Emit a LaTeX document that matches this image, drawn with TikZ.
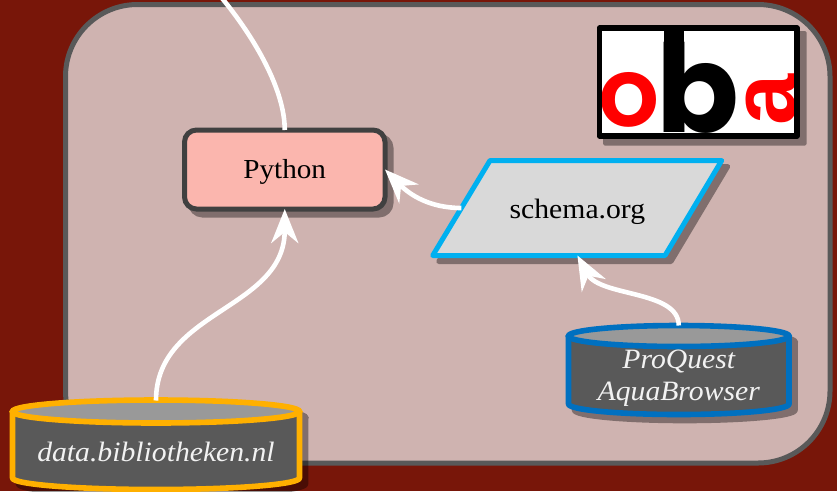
\documentclass[tikz,border=0pt]{standalone}
\usepackage{fontspec}
\setmainfont{Liberation Serif}[FakeStretch=1.06]
\newfontfamily\logofont{Poppins SemiBold}
\newfontfamily\logoheavy{Poppins Bold}
\newfontfamily\logoa{Liberation Sans Bold}
\usetikzlibrary{arrows.meta}
\definecolor{bgred}{HTML}{781609}
\definecolor{panelfill}{HTML}{CFB3B0}
\definecolor{panelline}{HTML}{595959}
\definecolor{pyfill}{HTML}{FBB6AE}
\definecolor{pyline}{HTML}{404040}
\definecolor{schemaline}{HTML}{00B0F0}
\definecolor{schemafill}{HTML}{D9D9D9}
\definecolor{drumbody}{HTML}{595959}
\definecolor{drumtop}{HTML}{999999}
\definecolor{dataline}{HTML}{FFB000}
\definecolor{pqline}{HTML}{0070C0}
\definecolor{labelwhite}{HTML}{F2F2F2}
\tikzset{
  holder/.style={inner sep=0pt,outer sep=0pt,draw=none},
  flow/.style={draw=white,line width=4.6pt},
  flowtip/.style={flow,-{Stealth[length=34pt,width=27pt,inset=11pt]}},
  shadowgroup/.style={transparency group,opacity=.38},
}
% cx, top centre y, wall bottom y, rx, ry
\newcommand\drumbodypath[5]{(#1-#4,#2) -- (#1-#4,#3) arc[start angle=180,end angle=360,x radius=#4pt,y radius=#5pt] -- (#1+#4,#2) -- cycle}
\newcommand\drumshadow[5]{\begin{scope}[shadowgroup,shift={(6,6)}]
  \draw[black,fill=black,line width=5.6pt,line join=round] \drumbodypath{#1}{#2}{#3}{#4}{#5};
  \draw[black,fill=black,line width=5.6pt] (#1,#2) ellipse [x radius=#4pt,y radius=#5pt];
\end{scope}}
\newcommand\drum[6]{
  \draw[#6,fill=drumbody,line width=5.6pt,line join=round] \drumbodypath{#1}{#2}{#3}{#4}{#5};
  \draw[#6,fill=drumtop,line width=5.6pt] (#1,#2) ellipse [x radius=#4pt,y radius=#5pt];
}
\newcommand\atbase[2]{\raisebox{#1}[0pt][0pt]{#2}}
\begin{document}
\begin{tikzpicture}[x=1pt,y=-1pt]
\useasboundingbox (0,0) rectangle (837,491);
\fill[bgred] (0,0) rectangle (837,491);
\draw[panelline,fill=panelfill,line width=5pt,rounded corners=72pt] (65.5,4.5) rectangle (830,463);

% logo
\begin{scope}[shadowgroup]
  \fill[black,rounded corners=1.5pt] (603,31) rectangle (806.5,145.5);
\end{scope}
\fill[white] (599.5,28) rectangle (797,136);
\begin{scope}
  \clip (601,30) rectangle (795,134);
  \fill[black] (663.5,30) rectangle (684,70);
  \node[holder,anchor=base,red] (logoo) at (629,126) {\fontsize{96}{96}\logofont o};
  \node[holder,anchor=base,black] (logob) at (697.5,132.5) {\fontsize{122}{122}\logoheavy b};
  \node[holder,anchor=base,red,rotate=90] (logoa) at (795,100) {\fontsize{92}{92}\logoa a};
\end{scope}
\draw[black,line width=5.5pt,line join=round] (599.5,28) rectangle (797,136);

% Python
\begin{scope}[shadowgroup]
  \draw[black,fill=black,line width=5pt,rounded corners=12pt] (190.5,136) rectangle (391,215);
\end{scope}
\node[holder,draw=pyline,fill=pyfill,line width=5pt,rounded corners=12pt,minimum width=200.5pt,minimum height=79pt,font=\fontsize{27.5}{30}\selectfont,text=black] (py) at (284.75,169.5) {\atbase{-9pt}{Python}};

% schema.org
\begin{scope}[shadowgroup]
  \draw[black,fill=black,line width=5pt,line join=round,shift={(6,6)}] (490,160.5) -- (721.7,160.5) -- (665,255.5) -- (432.7,255.5) -- cycle;
\end{scope}
\draw[schemaline,fill=schemafill,line width=5pt,line join=round] (490,160.5) -- (721.7,160.5) -- (665,255.5) -- (432.7,255.5) -- cycle;
\node[holder,minimum width=232pt,minimum height=95pt,font=\fontsize{28}{30}\selectfont,text=black] (schema) at (577.4,208) {\atbase{-10pt}{schema.org}};

% drums
\drumshadow{156}{411.5}{478}{143.5}{11.5}
\drum{156}{411.5}{478}{143.5}{11.5}{dataline}
\node[holder,minimum width=287pt,minimum height=88.5pt,font=\itshape\fontsize{28}{30}\selectfont,text=labelwhite] (data) at (156,444.75) {\atbase{-16.25pt}{data.bibliotheken.nl}};

\drumshadow{678.75}{336}{404}{110.25}{10.5}
\drum{678.75}{336}{404}{110.25}{10.5}{pqline}
\node[holder,minimum width=220.5pt,minimum height=89pt,font=\itshape\fontsize{28}{32}\selectfont,text=labelwhite] (pq) at (678.75,370) {\atbase{-30pt}{\begin{tabular}[b]{@{}c@{}}ProQuest\\AquaBrowser\end{tabular}}};

% connectors
\coordinate (topfree) at (221,-3);
\draw[flow] (py.north) .. controls (284.75,90) and (255,38) .. (topfree);
\draw[flowtip] (data.north) .. controls (156,310) and (284.75,310) .. (py.south);
\draw[flowtip] (schema.west) .. controls (430,208) and (410,195) .. (py.east);
\draw[flowtip] (pq.north) .. controls (678.75,290) and (600,297) .. (schema.south);
\end{tikzpicture}
\end{document}
